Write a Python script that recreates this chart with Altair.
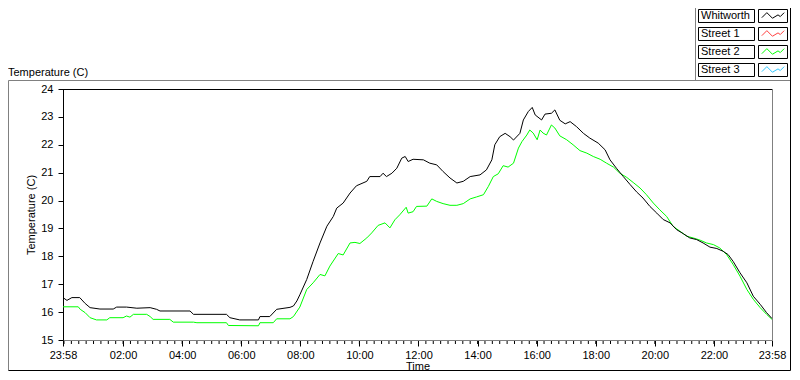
import altair as alt
import pandas as pd

# ---------------- data ----------------
series_names = ["Whitworth", "Street 1", "Street 2", "Street 3"]
series_colors = ["#000000", "#ff4040", "#00ff00", "#30c8ff"]

# minutes elapsed since 23:58 (start of record), temperature in C
whitworth_min = [0, 8, 18, 34, 45, 55, 75, 102, 109, 129, 150, 177, 190, 197, 258, 265, 332, 339,
                 359, 397, 400, 420, 434, 461, 468, 475, 481, 495, 508, 522, 536, 549, 556, 569,
                 583, 596, 617, 623, 644, 650, 657, 668, 678, 688, 695, 701, 711, 732, 745, 759,
                 772, 786, 800, 813, 827, 847, 860, 871, 877, 887, 898, 908, 915, 928, 935, 945,
                 953, 959, 972, 979, 992, 999, 1009, 1020, 1030, 1043, 1057, 1070, 1087, 1101,
                 1111, 1124, 1138, 1152, 1165, 1178, 1192, 1206, 1219, 1233, 1246, 1260, 1273,
                 1287, 1300, 1314, 1328, 1341, 1351, 1361, 1375, 1389, 1402, 1416, 1429, 1440]
whitworth_temp = [16.52, 16.42, 16.52, 16.52, 16.31, 16.16, 16.11, 16.11, 16.18, 16.18, 16.14,
                  16.16, 16.10, 16.04, 16.04, 15.92, 15.92, 15.80, 15.72, 15.72, 15.84, 15.84,
                  16.10, 16.17, 16.22, 16.40, 16.62, 17.17, 17.82, 18.48, 19.08, 19.43, 19.73,
                  19.91, 20.27, 20.53, 20.69, 20.86, 20.86, 20.98, 20.86, 20.98, 21.16, 21.52,
                  21.58, 21.40, 21.48, 21.46, 21.34, 21.28, 21.04, 20.81, 20.63, 20.69, 20.86,
                  20.92, 21.10, 21.46, 22.00, 22.29, 22.41, 22.29, 22.17, 22.41, 22.89, 23.19,
                  23.34, 23.07, 22.89, 23.10, 23.13, 23.25, 22.88, 22.75, 22.83, 22.65, 22.41,
                  22.24, 22.06, 21.82, 21.46, 21.16, 20.86, 20.57, 20.31, 20.09, 19.79, 19.55,
                  19.32, 19.20, 18.96, 18.81, 18.66, 18.60, 18.48, 18.33, 18.28, 18.18, 18.06,
                  17.82, 17.41, 17.05, 16.57, 16.28, 15.98, 15.77]

street2_min = [0, 31, 35, 45, 55, 68, 89, 95, 122, 129, 136, 143, 170, 177, 183, 217, 224, 265,
               272, 332, 336, 397, 400, 427, 434, 461, 468, 481, 495, 508, 522, 532, 542, 559,
               569, 583, 593, 603, 617, 627, 640, 654, 664, 674, 684, 697, 701, 711, 718, 739,
               749, 759, 772, 786, 800, 813, 827, 840, 854, 864, 874, 884, 894, 904, 915, 925,
               932, 942, 948, 955, 963, 969, 975, 982, 992, 999, 1009, 1023, 1036, 1050, 1064,
               1077, 1091, 1104, 1118, 1131, 1145, 1158, 1172, 1185, 1199, 1212, 1226, 1239,
               1253, 1267, 1280, 1294, 1307, 1321, 1334, 1348, 1361, 1375, 1389, 1402, 1416,
               1429, 1440]
street2_temp = [16.19, 16.19, 16.10, 15.98, 15.80, 15.72, 15.72, 15.80, 15.80, 15.86, 15.82,
                15.92, 15.92, 15.84, 15.74, 15.74, 15.64, 15.64, 15.62, 15.62, 15.52, 15.51,
                15.62, 15.62, 15.76, 15.76, 15.84, 16.18, 16.81, 17.05, 17.35, 17.30, 17.65,
                18.10, 18.05, 18.48, 18.50, 18.46, 18.66, 18.84, 19.11, 19.20, 19.02, 19.31,
                19.49, 19.76, 19.55, 19.60, 19.79, 19.80, 20.06, 19.97, 19.89, 19.83, 19.83,
                19.89, 20.06, 20.13, 20.21, 20.51, 20.86, 20.96, 21.25, 21.20, 21.34, 21.88,
                22.11, 22.35, 22.53, 22.42, 22.18, 22.53, 22.42, 22.35, 22.71, 22.60, 22.32,
                22.18, 22.00, 21.79, 21.70, 21.58, 21.48, 21.34, 21.20, 20.98, 20.83, 20.65,
                20.45, 20.21, 19.91, 19.67, 19.43, 19.08, 18.90, 18.72, 18.66, 18.58, 18.48,
                18.42, 18.30, 18.06, 17.71, 17.29, 16.81, 16.46, 16.16, 15.92, 15.74]

y_ticks = list(range(15, 25))
major_ticks = [0] + [122 + 120 * i for i in range(11)] + [1440]
minor_ticks = [2 + 15 * k for k in range(96)]

# ---------------- build ----------------
FONT = "Liberation Sans"
W, H = 709, 251

lines_df = pd.concat([
    pd.DataFrame({"minute": street2_min, "temp": street2_temp, "series": "Street 2"}),
    pd.DataFrame({"minute": whitworth_min, "temp": whitworth_temp, "series": "Whitworth"}),
])

color_scale = alt.Scale(domain=series_names, range=series_colors)
x_scale = alt.Scale(domain=[0, 1440], nice=False, zero=False)

x_axis = alt.Axis(
    values=major_ticks,
    labelExpr="timeFormat(datetime(2000, 0, 1, 23, 58 + datum.value), '%H:%M')",
    ticks=True, tickSize=6, tickWidth=1, tickColor="#000000",
    domainColor="#808080", grid=False,
    labelFlush=False, labelOverlap=False, labelPadding=3, labelAngle=0,
    title="Time", titleY=29, titleBaseline="alphabetic",
)
y_axis = alt.Axis(
    values=y_ticks, ticks=True, tickSize=5, tickWidth=1, tickColor="#000000",
    domainColor="#000000", grid=False,
    labelPadding=5, title="Temperature (C)", titlePadding=4,
)

base = alt.Chart(lines_df).encode(
    x=alt.X("minute:Q", scale=x_scale, axis=x_axis),
    y=alt.Y("temp:Q", scale=alt.Scale(domain=[15, 24], nice=False, zero=False), axis=y_axis),
    color=alt.Color("series:N", scale=color_scale, legend=None),
)
green = base.transform_filter(alt.datum.series == "Street 2").mark_line(strokeWidth=1)
black = base.transform_filter(alt.datum.series == "Whitworth").mark_line(strokeWidth=1)

# minor tick marks on the time axis (every 15 min of clock time), drawn through the x scale
minor_df = pd.DataFrame({"minute": minor_ticks})
minor_marks = alt.Chart(minor_df).mark_tick(
    color="#000000", thickness=1, size=3, orient="vertical", opacity=1
).encode(
    x=alt.X("minute:Q", scale=x_scale, axis=x_axis),
    y=alt.value(H + 2.5),
)
main = alt.layer(green, black, minor_marks)

one = pd.DataFrame({"k": [0]})


def hrule(x1, x2, y, color):
    return alt.Chart(one).mark_rule(color=color, strokeWidth=1).encode(
        x=alt.value(x1), x2=alt.value(x2), y=alt.value(y))


def vrule(x, y1, y2, color):
    return alt.Chart(one).mark_rule(color=color, strokeWidth=1).encode(
        x=alt.value(x), y=alt.value(y1), y2=alt.value(y2))


frame = [
    hrule(0, W + 0.5, 0.5, "black"),            # plot top
    vrule(W + 0.5, 0, H, "#808080"),            # plot right
    hrule(-54.5, 727.5, -8.5, "#808080"),        # outer top
    vrule(-54.5, -8.5, 281.5, "#808080"),        # outer left
    vrule(727.5, -81, 281.5, "black"),           # outer right
    hrule(-54.5, 727.5, 281.5, "black"),         # outer bottom
    vrule(632.5, -81, -8.5, "#808080"),          # legend left
]

top_label = alt.Chart(one).mark_text(
    font=FONT, fontSize=11, align="left", baseline="alphabetic", color="black"
).encode(x=alt.value(-55), y=alt.value(-13), text=alt.value("Temperature (C)"))

legend_df = pd.DataFrame({"series": series_names})
ly = alt.Y("series:N", sort=series_names, axis=None,
           scale=alt.Scale(type="band", range=[-79.5, -12.5], paddingInner=0.2778, paddingOuter=0))
leg = alt.Chart(legend_df)
label_boxes = leg.mark_rect(fill="white", stroke="black", strokeWidth=1).encode(
    x=alt.value(635.5), x2=alt.value(691.5), y=ly)
sym_boxes = leg.mark_rect(fill="white", stroke="black", strokeWidth=1).encode(
    x=alt.value(695.5), x2=alt.value(724.5), y=ly)
labels = leg.mark_text(font=FONT, fontSize=11, align="left", baseline="middle", color="black").encode(
    x=alt.value(638), y=ly, text="series:N")
symbols = leg.mark_point(
    shape="M-1,0.15L-0.55,-0.3L-0.05,0.2L0.45,-0.1L0.65,0.05L1,-0.3",
    filled=False, strokeWidth=1, size=500, opacity=1,
).encode(x=alt.value(710), y=ly, color=alt.Color("series:N", scale=color_scale, legend=None))

legend = alt.layer(*frame, top_label, label_boxes, sym_boxes, labels, symbols)

chart = alt.layer(main, legend).resolve_scale(y="independent").properties(
    width=W, height=H,
    autosize=alt.AutoSizeParams(type="none"),
    padding={"left": 55, "top": 81, "right": 20, "bottom": 32},
    background="white",
).configure_view(stroke=None).configure_axis(
    labelFont=FONT, labelFontSize=11, labelColor="black",
    titleFont=FONT, titleFontSize=11, titleFontWeight="normal", titleColor="black",
)

chart.save("out.html", embed_options={"renderer": "svg", "actions": False})
